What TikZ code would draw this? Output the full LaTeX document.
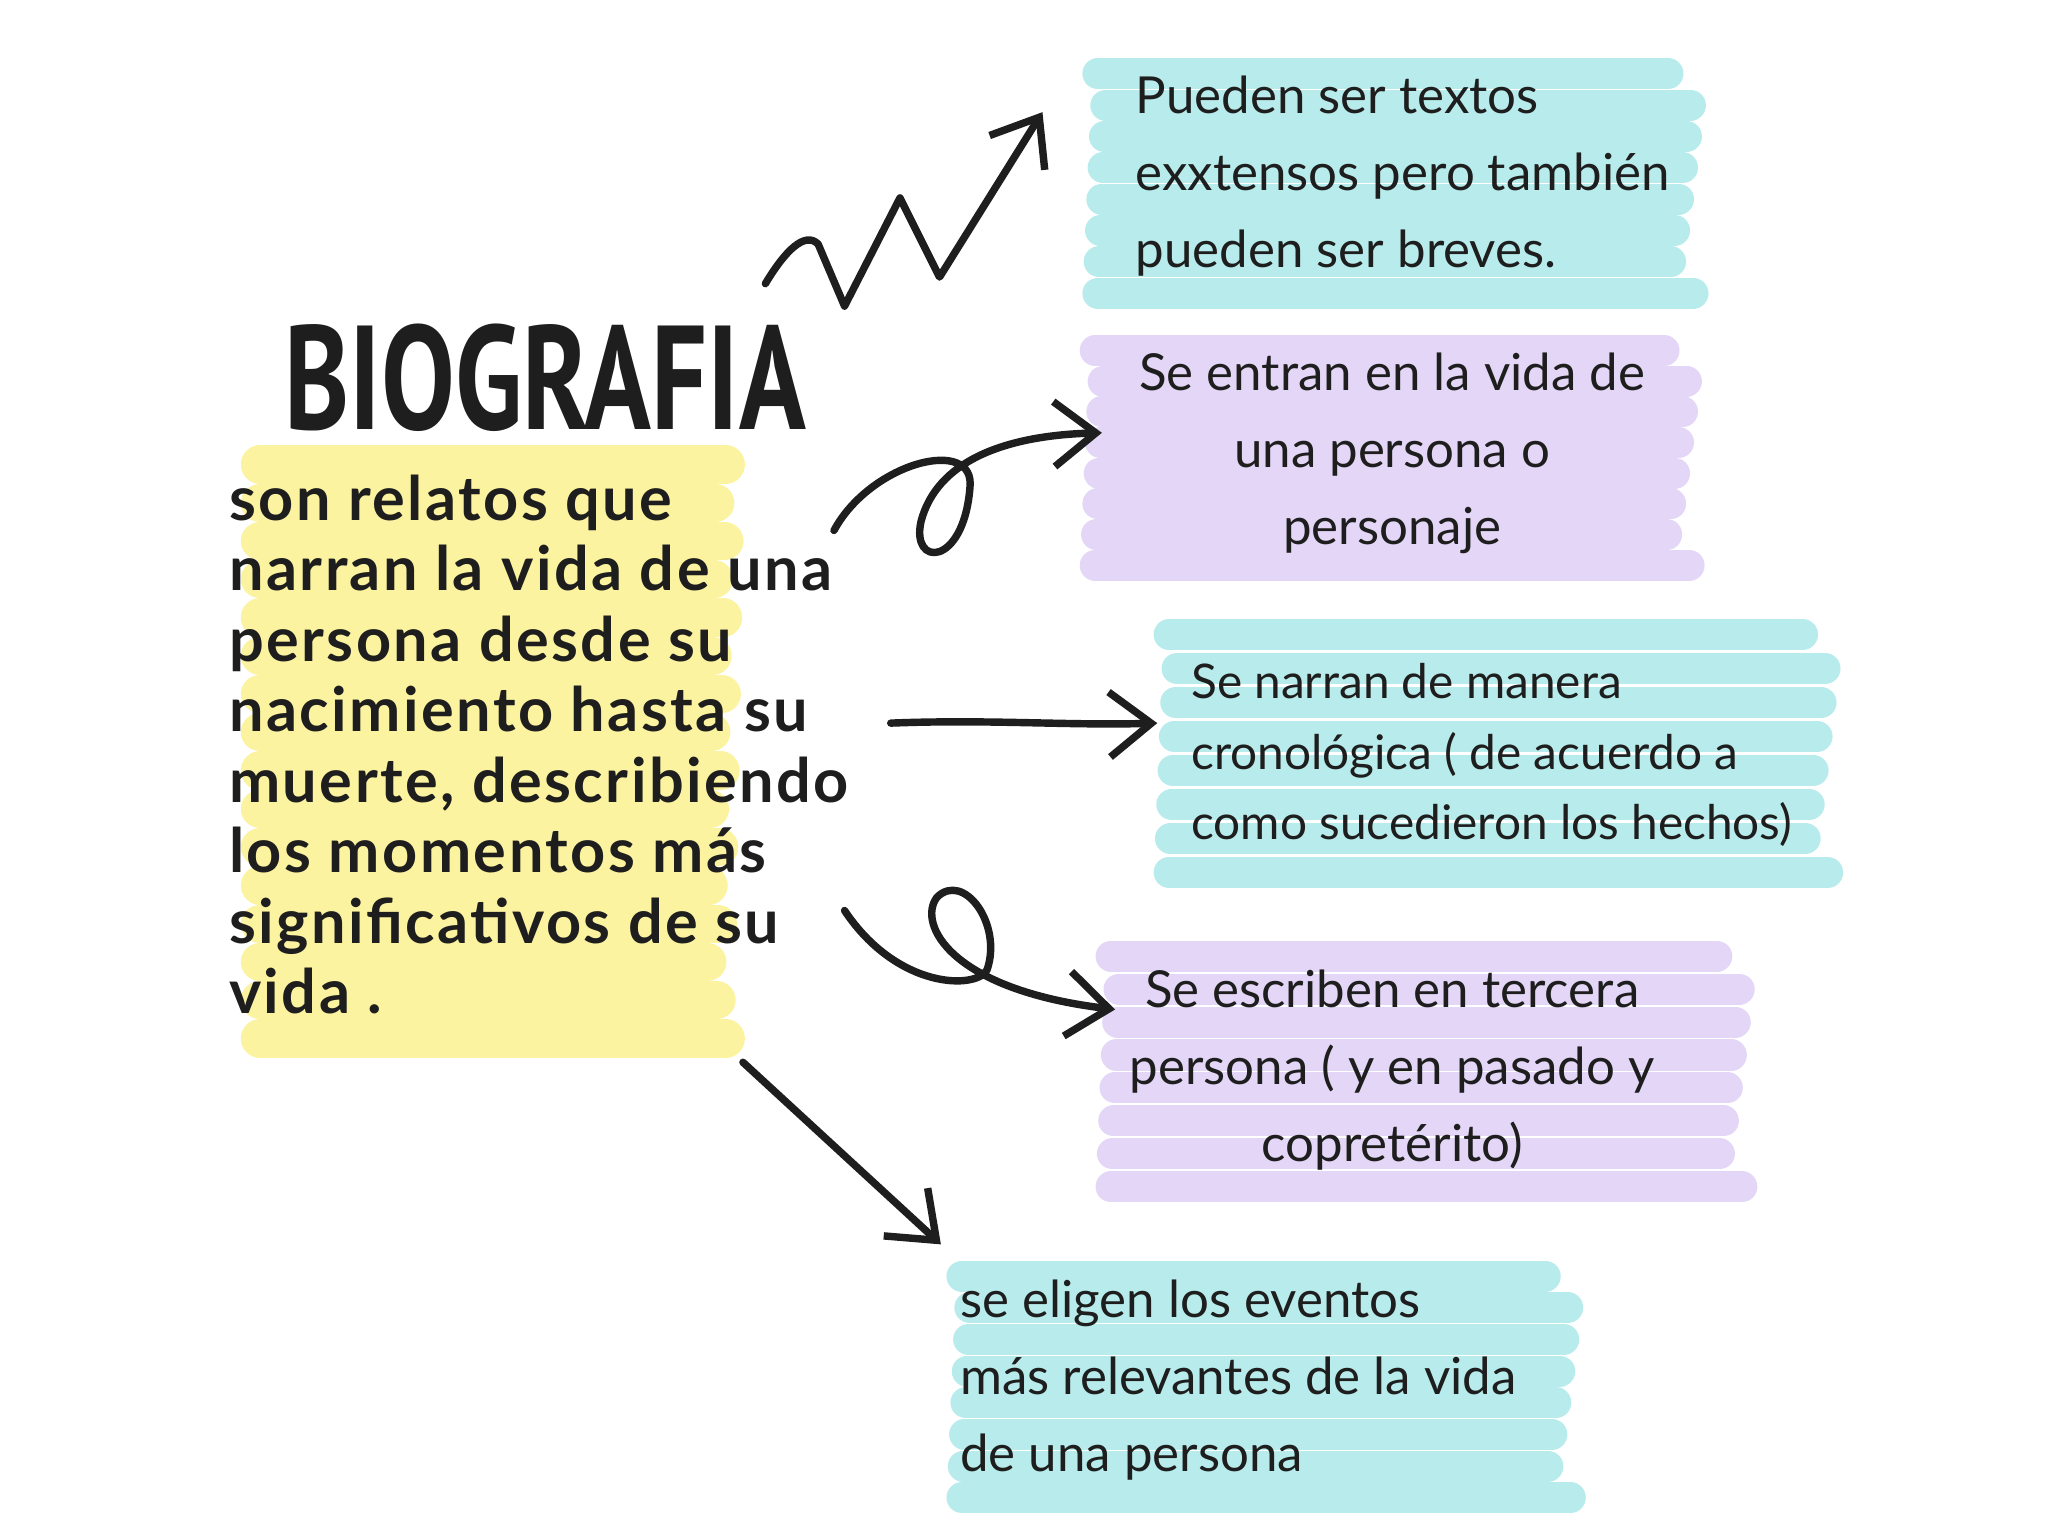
\documentclass[tikz,border=0pt]{standalone}
\usepackage{fontspec}
\setmainfont{Lato}
\newfontfamily\titlefont{PT Sans}
\usetikzlibrary{arrows.meta}
\definecolor{hcyan}{RGB}{184,236,236}
\definecolor{hpurple}{RGB}{228,214,246}
\definecolor{hyellow}{RGB}{252,243,160}
\definecolor{ink}{RGB}{30,30,30}
\tikzset{
  conn/.style={draw=ink,line width=1.6pt,line cap=round,line join=round,-{Straight Barb[length=9pt,width=14pt,line width=1.6pt]}},
  bodytxt/.style={font=\fontsize{11}{16.6}\selectfont,text=ink,inner sep=0pt},
}
\newcommand{\bands}[5]{% x1 x2 ytop ybot color
  \foreach \k in {0,...,7}{
    \pgfmathsetmacro{\yy}{-(#3+(#4-#3)*(\k+0.5)/8)/100}
    \draw[#5,line width=0.235cm,line cap=round] ({(#1+4+mod(\k*13,7))/100},\yy) -- ({(#2-14+mod(\k*37,20)-10)/100},\yy);
  }}
\begin{document}
\begin{tikzpicture}
\useasboundingbox (0,0) rectangle (15.52,-11.64);
\fill[white] (0,0) rectangle (15.52,-11.64);
\bands{828}{1288}{44}{234}{hcyan}
\bands{826}{1285}{254}{440}{hpurple}
\bands{882}{1390}{468}{674}{hcyan}
\bands{838}{1325}{712}{912}{hpurple}
\bands{725}{1195}{955}{1147}{hcyan}
\foreach \k in {0,...,15}{
  \pgfmathsetmacro{\yy}{-(352+\k*29)/100}
  \pgfmathsetmacro{\xe}{5.5-mod(\k*23,15)/100}
  \draw[hyellow,line width=0.29cm,line cap=round] (1.97,\yy) -- (\xe,\yy);
}
\node[anchor=south west,inner sep=0pt,text=ink] (title) at (2.15,-3.28) {\resizebox{3.95cm}{0.8cm}{\titlefont\bfseries BIOGRAFIA}};
\node[anchor=north west,inner sep=0pt,text=ink,align=left,font=\fontsize{13.2}{15.2}\selectfont\bfseries\addfontfeatures{LetterSpace=4}] (main) at (1.73,-3.59)
{son relatos que\\narran la vida de una\\persona desde su\\nacimiento hasta su\\muerte, describiendo\\los momentos más\\significativos de su\\vida .};
\node[bodytxt,anchor=north west,align=left] (b1) at (8.6,-0.57) {Pueden ser textos\\exxtensos pero también\\pueden ser breves.};
\node[bodytxt,anchor=north,align=center] (b2) at (10.55,-2.67) {Se entran en la vida de\\una persona o\\personaje};
\node[bodytxt,anchor=north west,align=left,font=\fontsize{10.3}{15.2}\selectfont] (b3) at (9.02,-5.02) {Se narran de manera\\cronológica ( de acuerdo a\\como sucedieron los hechos)};
\node[bodytxt,anchor=north,align=center] (b4) at (10.55,-7.34) {Se escriben en tercera\\persona ( y en pasado y\\copretérito)};
\node[bodytxt,anchor=north west,align=left] (b5) at (7.27,-9.69) {se eligen los eventos\\más relevantes de la vida\\de una persona};
\coordinate (z0) at (5.8,-2.15);
\coordinate (a1) at (7.9,-0.85);
\draw[conn] (z0) .. controls (5.95,-1.9) and (6.1,-1.75) .. (6.2,-1.85) -- (6.4,-2.32) -- (6.82,-1.5) -- (7.12,-2.1) -- (a1);
\coordinate (l0) at (6.32,-4.02);
\coordinate (a2) at (8.35,-3.28);
\draw[conn] (l0) .. controls (6.6,-3.5) and (7.4,-3.3) .. (7.35,-3.7)
  .. controls (7.3,-4.3) and (6.9,-4.3) .. (6.98,-3.95)
  .. controls (7.1,-3.5) and (7.6,-3.3) .. (a2);
\coordinate (s0) at (6.75,-5.48);
\coordinate (a3) at (8.77,-5.48);
\draw[conn] (s0) .. controls (7.5,-5.45) and (8.1,-5.5) .. (a3);
\coordinate (m0) at (6.4,-6.9);
\coordinate (a4) at (8.45,-7.65);
\draw[conn] (m0) .. controls (6.8,-7.5) and (7.4,-7.5) .. (7.48,-7.35)
  .. controls (7.6,-7.0) and (7.3,-6.6) .. (7.1,-6.8)
  .. controls (6.95,-7.0) and (7.2,-7.5) .. (a4);
\coordinate (d0) at (5.63,-8.05);
\coordinate (a5) at (7.13,-9.43);
\draw[conn] (d0) -- (a5);
\end{tikzpicture}
\end{document}
